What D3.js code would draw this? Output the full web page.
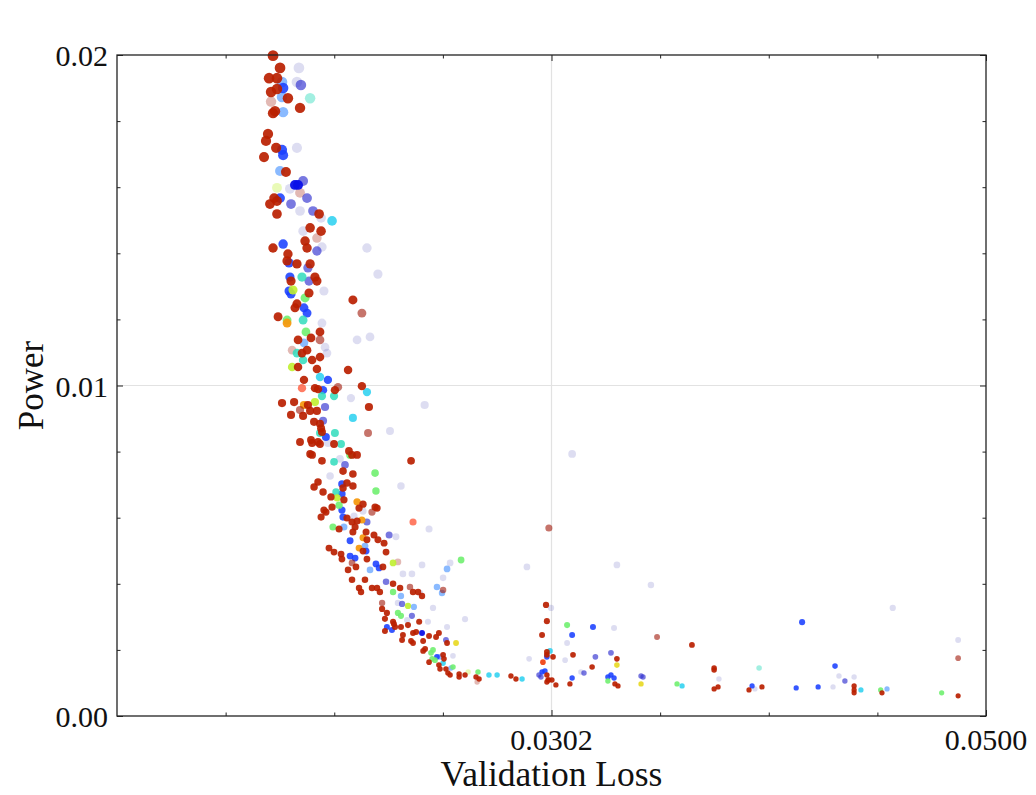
<!DOCTYPE html>
<html>
<head>
<meta charset="utf-8">
<script src="https://cdn.jsdelivr.net/npm/d3@7"></script>
<style>
  body { margin: 0; background: #fff; }
  text { font-family: "Liberation Serif", "DejaVu Serif", serif; fill: #111; }
</style>
</head>
<body>
<svg id="chart" width="1036" height="795"></svg>
<script>
// axis ranges and labels
const lossDomain = [0.0104, 0.0500];
const powerDomain = [0, 0.02];
const lossTicks = [0.0302, 0.0500];
const powerTicks = [0.00, 0.01, 0.02];

// [loss, power] per colour group
const redPts = [
  [0.01751,0.01998],[0.01783,0.01961],[0.01733,0.01930],[0.01769,0.01930],[0.01742,0.01888],[0.01769,0.01897],
  [0.01819,0.01869],[0.01751,0.01824],[0.01760,0.01830],[0.01874,0.01840],[0.01728,0.01761],[0.01719,0.01740],
  [0.01765,0.01719],[0.01710,0.01691],[0.01810,0.01646],[0.01756,0.01567],[0.01737,0.01549],[0.01769,0.01558],
  [0.01961,0.01519],[0.01769,0.01519],[0.01920,0.01477],[0.01970,0.01467],[0.01897,0.01437],[0.01906,0.01416],
  [0.01751,0.01416],[0.01819,0.01398],[0.01815,0.01377],[0.01860,0.01368],[0.01920,0.01368],[0.01942,0.01328],
  [0.01951,0.01316],[0.01833,0.01316],[0.01915,0.01280],[0.02115,0.01259],[0.01860,0.01247],[0.01851,0.01235],
  [0.01774,0.01208],[0.01965,0.01162],[0.01865,0.01138],[0.01924,0.01144],[0.01906,0.01107],[0.01883,0.01098],
  [0.01929,0.01077],[0.01965,0.01086],[0.01865,0.01056],[0.01951,0.01050],[0.02093,0.01047],[0.01892,0.01017],
  [0.01942,0.00992],[0.01956,0.00989],[0.02033,0.00986],[0.02156,0.00998],[0.01792,0.00947],[0.01847,0.00950],
  [0.01910,0.00941],[0.02188,0.00935],[0.01833,0.00911],[0.01888,0.00908],[0.01920,0.00923],[0.01951,0.00923],
  [0.01938,0.00890],[0.01965,0.00884],[0.01970,0.00871],[0.01974,0.00859],[0.01874,0.00829],[0.01924,0.00835],
  [0.01929,0.00826],[0.01956,0.00829],[0.01965,0.00823],[0.02029,0.00823],[0.01920,0.00793],[0.01929,0.00790],
  [0.02097,0.00802],[0.02111,0.00790],[0.02134,0.00790],[0.01974,0.00772],[0.02380,0.00772],[0.02070,0.00741],
  [0.02115,0.00732],[0.01956,0.00708],[0.01938,0.00693],[0.02088,0.00705],[0.02115,0.00696],[0.02070,0.00690],
  [0.01979,0.00678],[0.02015,0.00663],[0.02074,0.00654],[0.02161,0.00641],[0.02020,0.00632],[0.02143,0.00629],
  [0.02216,0.00632],[0.02225,0.00629],[0.01992,0.00617],[0.01983,0.00623],[0.02088,0.00599],[0.01970,0.00602],
  [0.02134,0.00590],[0.02111,0.00587],[0.02052,0.00566],[0.02125,0.00572],[0.02115,0.00557],[0.02175,0.00557],
  [0.02211,0.00548],[0.02179,0.00533],[0.02229,0.00533],[0.02257,0.00523],[0.02006,0.00508],[0.02029,0.00496],
  [0.02161,0.00499],[0.02266,0.00496],[0.02061,0.00490],[0.02065,0.00475],[0.02179,0.00475],[0.02129,0.00451],
  [0.02252,0.00451],[0.02093,0.00442],[0.02111,0.00412],[0.02170,0.00412],[0.02298,0.00400],[0.02143,0.00387],
  [0.02202,0.00387],[0.02225,0.00387],[0.02330,0.00387],[0.02152,0.00375],[0.02238,0.00375],[0.02389,0.00375],
  [0.02412,0.00375],[0.02430,0.00363],[0.02248,0.00324],[0.02270,0.00312],[0.02261,0.00294],[0.02298,0.00285],
  [0.02302,0.00278],[0.02417,0.00285],[0.02307,0.00269],[0.02334,0.00269],[0.02366,0.00275],[0.02261,0.00257],
  [0.02389,0.00251],[0.02403,0.00254],[0.02462,0.00242],[0.02507,0.00251],[0.02494,0.00239],[0.02343,0.00245],
  [0.02339,0.00230],[0.02380,0.00227],[0.02389,0.00221],[0.02435,0.00227],[0.02544,0.00221],[0.02444,0.00203],
  [0.02435,0.00197],[0.02526,0.00185],[0.02462,0.00163],[0.02530,0.00173],[0.02507,0.00154],[0.02512,0.00142],
  [0.02539,0.00142],[0.02548,0.00130],[0.02558,0.00124],[0.02599,0.00127],[0.02599,0.00118],[0.02626,0.00124],
  [0.02676,0.00118],[0.02690,0.00112],[0.02835,0.00121],[0.02858,0.00112],[0.02995,0.00336],[0.02999,0.00287],
  [0.02977,0.00245],[0.02999,0.00194],[0.02999,0.00185],[0.03027,0.00179],[0.02999,0.00124],[0.03004,0.00109],
  [0.03022,0.00109],[0.03040,0.00094],[0.02999,0.00103],[0.03008,0.00109],[0.03104,0.00097],[0.03118,0.00185],
  [0.03318,0.00173],[0.03205,0.00148],[0.03660,0.00215],[0.03761,0.00145],[0.03761,0.00139],[0.03309,0.00097],
  [0.03323,0.00091],[0.03761,0.00082],[0.03779,0.00088],[0.03920,0.00079],[0.03979,0.00088],[0.04399,0.00091],
  [0.04399,0.00079],[0.04399,0.00070],[0.04526,0.00070],[0.04873,0.00061]
];
const redOrangePts = [[0.02981,0.00163]];
const pinkPts = [
  [0.02156,0.01219],[0.01965,0.01138],[0.02047,0.00995],[0.01874,0.00926],[0.02184,0.00856],[0.02202,0.00617],
  [0.02111,0.00463],[0.02375,0.00390],[0.02526,0.00381],[0.02248,0.00342],[0.03008,0.00569],[0.03501,0.00239],
  [0.04873,0.00175]
];
const paleRedPts = [
  [0.01742,0.01859],[0.01874,0.01583],[0.01951,0.01446],[0.01838,0.01107],[0.02320,0.00466],[0.02681,0.00103]
];
const salmonPts = [[0.01883,0.00992],[0.02389,0.00587]];
const orangePts = [
  [0.01815,0.01189],[0.01892,0.00941],[0.02134,0.00648],[0.02156,0.00593],[0.02161,0.00539],[0.02143,0.00508]
];
const yellowPts = [[0.02585,0.00221],[0.03318,0.00154],[0.03428,0.00097]];
const limePts = [
  [0.01842,0.01289],[0.01838,0.01056],[0.01942,0.00950],[0.02043,0.00660],[0.02298,0.00463],[0.02366,0.00333]
];
const paleLimePts = [[0.01769,0.01598],[0.02640,0.00133]];
const greenPts = [
  [0.01897,0.01265],[0.01815,0.01198],[0.01901,0.01162],[0.02102,0.00790],[0.02216,0.00735],[0.02220,0.00681],
  [0.02052,0.00638],[0.02024,0.00572],[0.02298,0.00375],[0.02320,0.00312],[0.02334,0.00303],[0.02471,0.00191],
  [0.02480,0.00200],[0.02476,0.00173],[0.02489,0.00169],[0.02571,0.00148],[0.02685,0.00133],[0.02608,0.00472],
  [0.03091,0.00275],[0.03277,0.00106],[0.03592,0.00097],[0.04520,0.00079],[0.04798,0.00070]
];
const tealPts = [
  [0.01883,0.01328],[0.01888,0.01198],[0.01860,0.01098],[0.01888,0.01077],[0.01974,0.00968],[0.02029,0.00968],
  [0.01965,0.00856],[0.02033,0.00856],[0.02061,0.00823],[0.02029,0.00769],[0.02038,0.00678]
];
const paleTealPts = [[0.01920,0.01869],[0.03966,0.00145]];
const cyanPts = [
  [0.02020,0.01498],[0.01965,0.01026],[0.02179,0.00980],[0.02115,0.00902],[0.02526,0.00160],[0.02735,0.00124],
  [0.02772,0.00124],[0.02886,0.00112],[0.03013,0.00197],[0.03615,0.00091],[0.04430,0.00079]
];
const skyPts = [
  [0.01792,0.01918],[0.01792,0.01873],[0.01797,0.01827],[0.01783,0.01649],[0.01892,0.01129],[0.02074,0.00572],
  [0.02170,0.00514],[0.02193,0.00442],[0.02498,0.00390],[0.02521,0.00372],[0.02334,0.00363],[0.02393,0.00330],
  [0.02512,0.00179],[0.02562,0.00145],[0.02544,0.00445],[0.04549,0.00082]
];
const bluePts = [
  [0.01797,0.01900],[0.01792,0.01713],[0.01797,0.01697],[0.01783,0.01567],[0.01797,0.01428],[0.01824,0.01371],
  [0.01828,0.01328],[0.01824,0.01286],[0.01833,0.01277],[0.01892,0.01235],[0.01906,0.01219],[0.02001,0.01017],
  [0.01979,0.00986],[0.01992,0.00844],[0.02065,0.00702],[0.02065,0.00672],[0.02065,0.00623],[0.02070,0.00602],
  [0.02102,0.00530],[0.02175,0.00499],[0.02102,0.00484],[0.02125,0.00478],[0.02220,0.00460],[0.02234,0.00448],
  [0.02270,0.00269],[0.02293,0.00260],[0.02498,0.00179],[0.02999,0.00179],[0.02977,0.00133],[0.02990,0.00136],
  [0.03209,0.00269],[0.03114,0.00245],[0.04162,0.00284],[0.04312,0.00151],[0.03114,0.00115],[0.03277,0.00118],
  [0.03291,0.00124],[0.03305,0.00115],[0.03934,0.00091],[0.04135,0.00085],[0.04235,0.00088]
];
const navyPts = [[0.01851,0.01607],[0.01865,0.01607],[0.02430,0.00251]];
const slatePts = [
  [0.01878,0.01909],[0.01888,0.01619],[0.01906,0.01567],[0.01833,0.01549],[0.01933,0.01528],[0.01951,0.01407],
  [0.01910,0.01356],[0.01915,0.01316],[0.01988,0.00935],[0.01979,0.00893],[0.02079,0.00760],[0.02179,0.00587],
  [0.02280,0.00548],[0.02266,0.00406],[0.02339,0.00339],[0.02384,0.00303],[0.02539,0.00230],[0.02963,0.00124],
  [0.03291,0.00191],[0.03220,0.00179],[0.02972,0.00118],[0.03168,0.00130],[0.03428,0.00121],[0.03437,0.00118],
  [0.04357,0.00106]
];
const lavenderPts = [
  [0.01869,0.01961],[0.01860,0.01918],[0.01860,0.01719],[0.01828,0.01595],[0.01874,0.01528],[0.01970,0.01507],
  [0.01888,0.01467],[0.01974,0.01419],[0.02179,0.01416],[0.02229,0.01337],[0.01983,0.01286],[0.01974,0.01189],
  [0.02134,0.01138],[0.02193,0.01147],[0.01988,0.01116],[0.01997,0.01098],[0.02106,0.00962],[0.02442,0.00941],
  [0.02284,0.00862],[0.02001,0.00826],[0.02056,0.00778],[0.02011,0.00726],[0.02334,0.00696],[0.02161,0.00620],
  [0.02120,0.00605],[0.02462,0.00566],[0.02311,0.00542],[0.02430,0.00457],[0.02343,0.00430],[0.02384,0.00430],
  [0.02558,0.00463],[0.02526,0.00418],[0.02908,0.00451],[0.03318,0.00457],[0.03114,0.00793],[0.03473,0.00396],
  [0.02320,0.00342],[0.02480,0.00327],[0.02362,0.00290],[0.02457,0.00285],[0.02626,0.00293],[0.02544,0.00269],
  [0.02571,0.00182],[0.02918,0.00173],[0.03018,0.00327],[0.03305,0.00266],[0.03091,0.00221],[0.03082,0.00169],
  [0.03154,0.00133],[0.03783,0.00112],[0.04330,0.00121],[0.04399,0.00118],[0.04303,0.00088],[0.03947,0.00082],
  [0.04575,0.00327],[0.04873,0.00230],[0.02421,0.00372]
];

// drawing order: faint first, reds last
const groups = [
  { pts: lavenderPts, color: '#4444b4', alpha: 0.18 },
  { pts: paleRedPts, color: '#a01808', alpha: 0.3 },
  { pts: paleTealPts, color: '#30dcbc', alpha: 0.45 },
  { pts: paleLimePts, color: '#c0f030', alpha: 0.35 },
  { pts: skyPts, color: '#3c8cff', alpha: 0.6 },
  { pts: slatePts, color: '#3030d0', alpha: 0.65 },
  { pts: bluePts, color: '#1a40ff', alpha: 0.88 },
  { pts: navyPts, color: '#0a10e8', alpha: 0.95 },
  { pts: cyanPts, color: '#28d0f0', alpha: 0.85 },
  { pts: tealPts, color: '#30dcbc', alpha: 0.85 },
  { pts: greenPts, color: '#70f070', alpha: 0.9 },
  { pts: limePts, color: '#c0f030', alpha: 0.9 },
  { pts: yellowPts, color: '#e8d820', alpha: 0.9 },
  { pts: orangePts, color: '#f59a10', alpha: 0.95 },
  { pts: salmonPts, color: '#ff5030', alpha: 0.75 },
  { pts: pinkPts, color: '#a01808', alpha: 0.6 },
  { pts: redPts, color: '#ba2000', alpha: 0.92 },
  { pts: redOrangePts, color: '#f04010', alpha: 0.92 }
];

const margin = { top: 55, right: 50, bottom: 79, left: 117 };
const W = 1036, H = 795;
const svg = d3.select('#chart');

const x = d3.scaleLinear().domain(lossDomain).range([margin.left, W - margin.right]);
const y = d3.scaleLinear().domain(powerDomain).range([H - margin.bottom, margin.top]);
// marker area grows with power
const area = d3.scaleLinear().domain(powerDomain).range([6, 29]);

const x0 = x.range()[0], x1 = x.range()[1], y0 = y.range()[0], y1 = y.range()[1];

// light grid at the middle ticks
svg.append('line').attr('x1', x(0.0302)).attr('x2', x(0.0302)).attr('y1', y1).attr('y2', y0)
  .attr('stroke', '#e2e2e2').attr('stroke-width', 1.2);
svg.append('line').attr('x1', x0).attr('x2', x1).attr('y1', y(0.01)).attr('y2', y(0.01))
  .attr('stroke', '#e2e2e2').attr('stroke-width', 1.2);

// points
groups.forEach(g => {
  svg.append('g').selectAll('circle')
    .data(g.pts)
    .join('circle')
    .attr('cx', d => x(d[0]))
    .attr('cy', d => y(d[1]))
    .attr('r', d => Math.sqrt(area(d[1])))
    .attr('fill', g.color)
    .attr('fill-opacity', g.alpha);
});

// ticks (inward on all four sides)
const span = lossDomain[1] - lossDomain[0];
const xMinor = d3.range(1, 8).map(k => lossDomain[0] + k * span / 8).filter(v => Math.abs(v - 0.0302) > 1e-6);
const yMinor = d3.range(1, 10).map(k => k * 0.002).filter(v => Math.abs(v - 0.01) > 1e-6);

function tickAxis(axisFn, scale, vals, size, transform) {
  const g = svg.append('g').attr('transform', transform)
    .call(axisFn(scale).tickValues(vals).tickSize(size).tickFormat(''));
  g.select('.domain').remove();
  g.selectAll('.tick line').attr('stroke', '#222').attr('stroke-width', 1);
  return g;
}
tickAxis(d3.axisBottom, x, lossTicks, -6, `translate(0,${y0})`);
tickAxis(d3.axisBottom, x, xMinor, -3.5, `translate(0,${y0})`);
tickAxis(d3.axisTop, x, lossTicks, -6, `translate(0,${y1})`);
tickAxis(d3.axisTop, x, xMinor, -3.5, `translate(0,${y1})`);
tickAxis(d3.axisLeft, y, powerTicks, -6, `translate(${x0},0)`);
tickAxis(d3.axisLeft, y, yMinor, -3.5, `translate(${x0},0)`);
tickAxis(d3.axisRight, y, powerTicks, -6, `translate(${x1},0)`);
tickAxis(d3.axisRight, y, yMinor, -3.5, `translate(${x1},0)`);

// frame
svg.append('rect').attr('x', x0).attr('y', y1).attr('width', x1 - x0).attr('height', y0 - y1)
  .attr('fill', 'none').attr('stroke', '#222').attr('stroke-width', 1.3);

// tick labels
svg.append('g').selectAll('text').data(lossTicks).join('text')
  .attr('x', d => x(d)).attr('y', y0 + 34)
  .attr('text-anchor', 'middle').attr('font-size', 30)
  .text(d => d3.format('.4f')(d));
svg.append('g').selectAll('text').data(powerTicks).join('text')
  .attr('x', x0 - 9).attr('y', d => y(d) + 11)
  .attr('text-anchor', 'end').attr('font-size', 30)
  .text(d => d3.format('.2f')(d));

// axis titles
svg.append('text').attr('x', (x0 + x1) / 2).attr('y', H - 9)
  .attr('text-anchor', 'middle').attr('font-size', 35.5).text('Validation Loss');
svg.append('text').attr('transform', `translate(43,${(y0 + y1) / 2}) rotate(-90)`)
  .attr('text-anchor', 'middle').attr('font-size', 35).text('Power');
</script>
</body>
</html>
